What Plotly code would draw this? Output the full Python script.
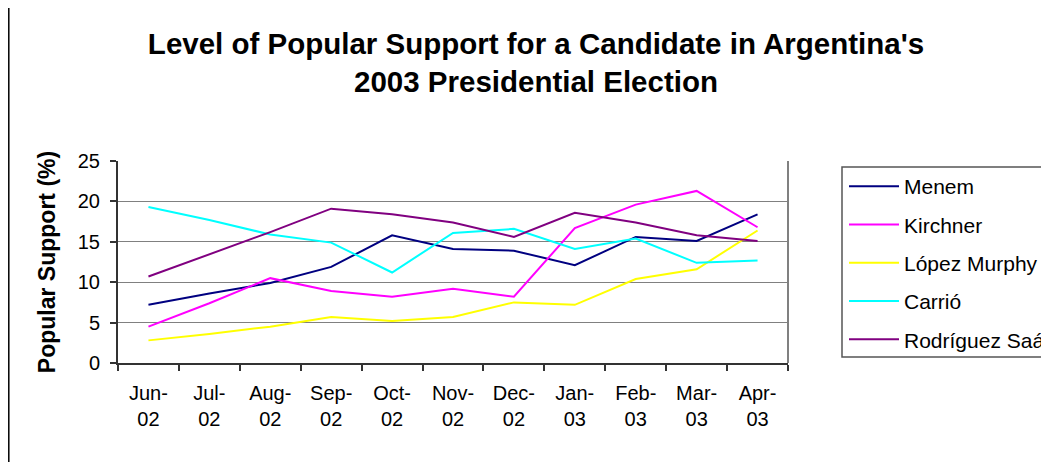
import plotly.graph_objects as go

months = ["Jun-<br>02", "Jul-<br>02", "Aug-<br>02", "Sep-<br>02", "Oct-<br>02", "Nov-<br>02",
          "Dec-<br>02", "Jan-<br>03", "Feb-<br>03", "Mar-<br>03", "Apr-<br>03"]

menem = [7.2, 8.6, 9.9, 11.9, 15.8, 14.1, 13.9, 12.1, 15.6, 15.1, 18.4]
kirchner = [4.5, 7.4, 10.5, 8.9, 8.2, 9.2, 8.2, 16.7, 19.6, 21.3, 16.8]
lopez_murphy = [2.8, 3.6, 4.5, 5.7, 5.2, 5.7, 7.5, 7.2, 10.4, 11.6, 16.4]
carrio = [19.3, 17.7, 15.9, 14.9, 11.2, 16.1, 16.6, 14.1, 15.4, 12.4, 12.7]
rodriguez_saa = [10.7, 13.5, 16.2, 19.1, 18.4, 17.4, 15.6, 18.6, 17.4, 15.8, 15.1]

series = [
    ("Menem", menem, "#000080"),
    ("Kirchner", kirchner, "#FF00FF"),
    ("López Murphy", lopez_murphy, "#FFFF00"),
    ("Carrió", carrio, "#00FFFF"),
    ("Rodríguez Saá", rodriguez_saa, "#800080"),
]

FONT = "Liberation Sans, Arial, sans-serif"

fig = go.Figure()
for name, vals, color in series:
    fig.add_trace(go.Scatter(
        x=months, y=vals, name=name, mode="lines", legendgroup=name,
        line=dict(color=color, width=2),
    ))

W, H = 1049, 462
OFF = 8  # page body margin offset
# plot area in screen pixels
SL, SR, ST, SB = 118, 788, 161, 363
L, R, T, B = SL - OFF, SR - OFF, ST - OFF, SB - OFF


def px_x(X):
    return (X - SL) / (SR - SL)


def px_y(Y):
    return (SB - Y) / (SB - ST)


fig.update_layout(
    width=W, height=H,
    margin=dict(l=L, r=W - R, t=T, b=H - B, autoexpand=False),
    paper_bgcolor="white", plot_bgcolor="white",
    font=dict(family=FONT, size=20, color="black"),
    title=dict(
        text="Level of Popular Support for a Candidate in Argentina's<br>2003 Presidential Election",
        x=(536 - OFF) / W, xanchor="center", xref="container",
        y=1 - (54 - OFF) / H, yanchor="middle", yref="container",
        font=dict(family=FONT, size=29.5, color="black", weight="bold"),
    ),
    showlegend=True,
    legend=dict(
        x=px_x(844), xanchor="left", y=px_y(166), yanchor="top",
        bgcolor="rgba(0,0,0,0)", borderwidth=0,
        font=dict(family=FONT, size=21, color="black"),
        tracegroupgap=8, itemwidth=50,
    ),
    shapes=[
        # outer chart border
        dict(type="rect", xref="paper", yref="paper",
             x0=px_x(8.8), x1=px_x(1070), y0=px_y(2), y1=px_y(480),
             line=dict(color="black", width=1.5), layer="below"),
        # legend box
        dict(type="rect", xref="paper", yref="paper",
             x0=px_x(842), x1=px_x(1070), y0=px_y(167), y1=px_y(357),
             line=dict(color="#555555", width=1.5), layer="below"),
        # plot area right border
        dict(type="line", xref="paper", yref="paper",
             x0=1, x1=1, y0=0, y1=1,
             line=dict(color="#808080", width=2), layer="below"),
    ],
)

fig.update_xaxes(
    type="category", tickson="boundaries", ticks="outside", ticklen=6,
    tickcolor="#333333", tickwidth=1.5,
    showline=True, linecolor="#333333", linewidth=2,
    showgrid=False, tickfont=dict(size=20), ticklabelstandoff=11,
    range=[-0.5, 10.5],
)
fig.update_yaxes(
    range=[0, 25], dtick=5, ticks="outside", ticklen=6,
    tickcolor="#333333", tickwidth=1.5,
    showline=True, linecolor="#333333", linewidth=2,
    showgrid=True, gridcolor="#808080", gridwidth=1,
    zeroline=False, tickfont=dict(size=20), ticklabelstandoff=6,
    title=dict(text="<b>Popular Support (%)</b>", font=dict(size=23), standoff=16),
)

fig.write_html("out.html")
